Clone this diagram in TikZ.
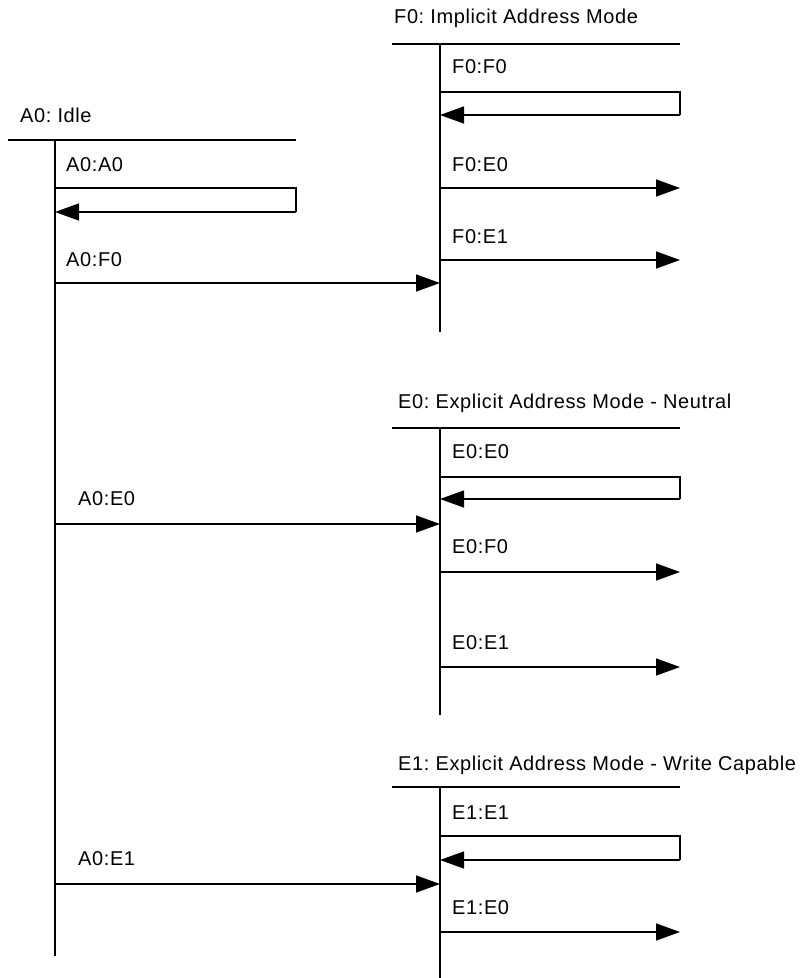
\documentclass[tikz,border=0pt]{standalone}
\usepackage{fontspec}
\setmainfont[LetterSpace=3.0]{Liberation Sans}
\frenchspacing
\usetikzlibrary{arrows.meta, positioning, calc}
\tikzset{
  statetitle/.style={
    anchor=west, inner sep=0pt,
    font=\fontsize{20}{23}\selectfont
  },
  translabel/.style={
    anchor=west, inner sep=0pt,
    font=\fontsize{20}{23}\selectfont
  },
  headline/.style={line width=1.8pt},
  lifeline/.style={line width=1.8pt},
  transarrow/.style={-{Triangle[length=24pt, width=17pt]}, line width=1.4pt},
  loopline/.style={line width=1.4pt},
}

\begin{document}
\begin{tikzpicture}[x=1pt, y=-1pt]
    \useasboundingbox (0,0) rectangle (809,978);

    % A0 state
    \node[statetitle] (a0t) at (20,115) {A0: Idle};
    \coordinate (a0hl) at (8,140);   \coordinate (a0hr) at (296,140);
    \coordinate (a0top) at (55,140); \coordinate (a0bot) at (55,956);
    \draw[headline] (a0hl) -- (a0hr);
    \draw[lifeline] (a0top) -- (a0bot);

    % F0 state
    \node[statetitle] (f0t) at (394,18) {F0: Implicit Address Mode};
    \coordinate (f0hl) at (392,44);   \coordinate (f0hr) at (680,44);
    \coordinate (f0top) at (440,44);  \coordinate (f0bot) at (440,332);
    \draw[headline] (f0hl) -- (f0hr);
    \draw[lifeline] (f0top) -- (f0bot);

    % E0 state
    \node[statetitle] (e0t) at (398,403) {E0: Explicit Address Mode - Neutral};
    \coordinate (e0hl) at (392,428);  \coordinate (e0hr) at (680,428);
    \coordinate (e0top) at (440,428); \coordinate (e0bot) at (440,715);
    \draw[headline] (e0hl) -- (e0hr);
    \draw[lifeline] (e0top) -- (e0bot);

    % E1 state
    \node[statetitle] (e1t) at (398,765) {E1: Explicit Address Mode - Write Capable};
    \coordinate (e1hl) at (392,787);  \coordinate (e1hr) at (680,787);
    \coordinate (e1top) at (440,787); \coordinate (e1bot) at (440,978);
    \draw[headline] (e1hl) -- (e1hr);
    \draw[lifeline] (e1top) -- (e1bot);

    % self transitions
    \node[translabel] (a0a0) at (66,165) {A0:A0};
    \coordinate (a0a0s) at (55,188);  \coordinate (a0a0e) at (55,212);
    \draw[loopline] (a0a0s) -- (296,188) -- (296,212) coordinate (a0a0r);
    \draw[transarrow] (a0a0r) -- (a0a0e);

    \node[translabel] (f0f0) at (452,67) {F0:F0};
    \coordinate (f0f0s) at (440,92);  \coordinate (f0f0e) at (440,115);
    \draw[loopline] (f0f0s) -- (680,92) -- (680,115) coordinate (f0f0r);
    \draw[transarrow] (f0f0r) -- (f0f0e);

    \node[translabel] (e0e0) at (452,452) {E0:E0};
    \coordinate (e0e0s) at (440,477); \coordinate (e0e0e) at (440,499);
    \draw[loopline] (e0e0s) -- (680,477) -- (680,499) coordinate (e0e0r);
    \draw[transarrow] (e0e0r) -- (e0e0e);

    \node[translabel] (e1e1) at (452,813) {E1:E1};
    \coordinate (e1e1s) at (440,836); \coordinate (e1e1e) at (440,860);
    \draw[loopline] (e1e1s) -- (680,836) -- (680,860) coordinate (e1e1r);
    \draw[transarrow] (e1e1r) -- (e1e1e);

    % transitions out of A0
    \node[translabel] (a0f0) at (66,260) {A0:F0};
    \coordinate (a0f0s) at (55,283);  \coordinate (a0f0e) at (440,283);
    \draw[transarrow] (a0f0s) -- (a0f0e);

    \node[translabel] (a0e0) at (78,499) {A0:E0};
    \coordinate (a0e0s) at (55,524);  \coordinate (a0e0e) at (440,524);
    \draw[transarrow] (a0e0s) -- (a0e0e);

    \node[translabel] (a0e1) at (78,859) {A0:E1};
    \coordinate (a0e1s) at (55,884);  \coordinate (a0e1e) at (440,884);
    \draw[transarrow] (a0e1s) -- (a0e1e);

    % transitions out of F0
    \node[translabel] (f0e0) at (452,165) {F0:E0};
    \coordinate (f0e0s) at (440,188); \coordinate (f0e0e) at (680,188);
    \draw[transarrow] (f0e0s) -- (f0e0e);

    \node[translabel] (f0e1) at (452,237) {F0:E1};
    \coordinate (f0e1s) at (440,260); \coordinate (f0e1e) at (680,260);
    \draw[transarrow] (f0e1s) -- (f0e1e);

    % transitions out of E0
    \node[translabel] (e0f0) at (452,547) {E0:F0};
    \coordinate (e0f0s) at (440,572); \coordinate (e0f0e) at (680,572);
    \draw[transarrow] (e0f0s) -- (e0f0e);

    \node[translabel] (e0e1) at (452,643) {E0:E1};
    \coordinate (e0e1s) at (440,667); \coordinate (e0e1e) at (680,667);
    \draw[transarrow] (e0e1s) -- (e0e1e);

    % transitions out of E1
    \node[translabel] (e1e0) at (452,908) {E1:E0};
    \coordinate (e1e0s) at (440,932); \coordinate (e1e0e) at (680,932);
    \draw[transarrow] (e1e0s) -- (e1e0e);
\end{tikzpicture}
\end{document}
